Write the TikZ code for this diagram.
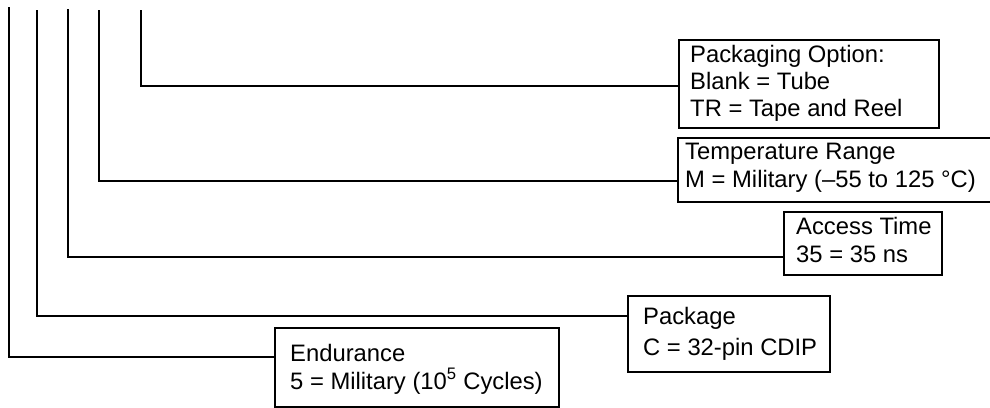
\documentclass[tikz,border=0pt]{standalone}
\usepackage{fontspec}
\setmainfont{Liberation Sans}
\begin{document}
\begin{tikzpicture}[x=1pt,y=-1pt,
  wire/.style={line width=2pt},
  box/.style={draw,line width=2pt,inner sep=0pt,anchor=north west},
  txt/.style={anchor=base west,inner sep=0pt,align=left,
    font=\fontsize{23.8}{27.5}\selectfont}]
\useasboundingbox (0,0) rectangle (990,407);
\clip (0,0) rectangle (990,407);
% boxes
\node[box,minimum width=260pt,minimum height=88pt] (pkgopt) at (678,39) {};
\node[box,minimum width=330pt,minimum height=64pt] (temp) at (677,137) {};
\node[box,minimum width=158pt,minimum height=63pt] (acc) at (783,211) {};
\node[box,minimum width=202pt,minimum height=76pt] (pkg) at (627,295) {};
\node[box,minimum width=284pt,minimum height=79pt] (end) at (274,327) {};
% texts (anchored at the baseline of the last line)
\node[txt,font=\fontsize{23.8}{27}\selectfont] (tpkgopt) at (690,116) {Packaging Option:\\Blank = Tube\\TR = Tape and Reel};
\node[txt,font=\fontsize{23.8}{28}\selectfont] (ttemp) at (685,187) {Temperature Range\\M = Military (–55 to 125 °C)};
\node[txt,font=\fontsize{23.8}{28}\selectfont] (tacc) at (796,262) {Access Time\\35 = 35 ns};
\node[txt,font=\fontsize{23.8}{31}\selectfont] (tpkg) at (643,355) {Package\\C = 32-pin CDIP};
\node[txt,font=\fontsize{23.8}{28}\selectfont] (tend) at (290,389) {Endurance\\5 = Military (10\textsuperscript{5} Cycles)};
% top ends
\coordinate (v1) at (9,7);
\coordinate (v2) at (37,10);
\coordinate (v3) at (68,9);
\coordinate (v4) at (99,10);
\coordinate (v5) at (141,10);
% connectors
\draw[wire] (v5) |- ([yshift=-47pt]pkgopt.north west);
\draw[wire] (v4) |- ([yshift=-44pt]temp.north west);
\draw[wire] (v3) |- ([yshift=-46pt]acc.north west);
\draw[wire] (v2) |- ([yshift=-21pt]pkg.north west);
\draw[wire] (v1) |- ([yshift=-30pt]end.north west);
\end{tikzpicture}
\end{document}
